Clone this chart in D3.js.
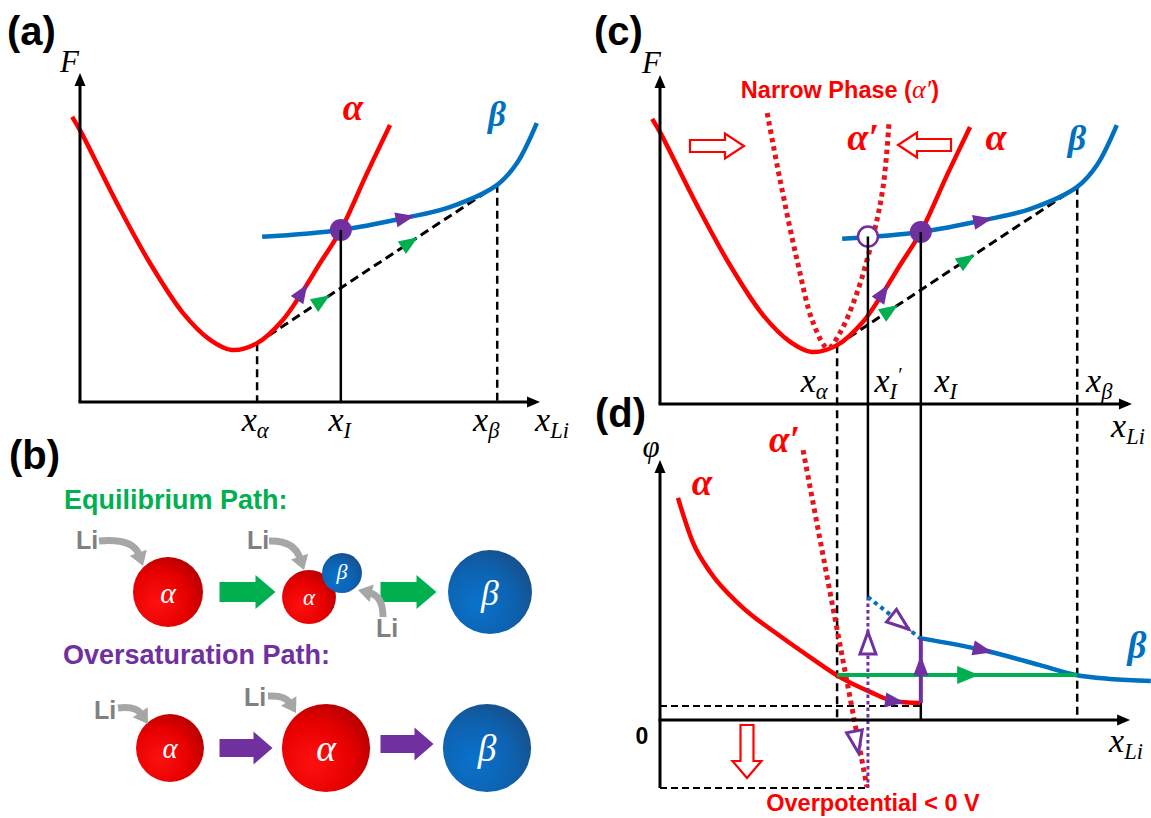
<!DOCTYPE html>
<html>
<head>
<meta charset="utf-8">
<script src="https://cdn.jsdelivr.net/npm/d3@7"></script>
<style>
  html, body { margin: 0; padding: 0; background: #ffffff; }
  svg { display: block; }
</style>
</head>
<body>
<svg id="fig" width="1151" height="818"></svg>
<script>
// ---------------- data ----------------
// Free energy F(x_Li) of the alpha phase, the beta phase and the narrow alpha' phase
const alphaF = [[-1.7,87.2],[0.2,82.6],[8,60.9],[15.2,42.5],[22.4,27.2],[28.3,19.0],[33.0,15.9],[38.5,18.0],[44.1,25.1],[48.3,33.6],[52.2,42.5],[56.7,52.6],[62.4,70.0],[67.4,84.7]];
const betaF = [[39.6,50.5],[56.7,52.6],[70.7,56.3],[80.4,59.6],[90.7,66.4],[95.0,73.1],[99.3,85.3]];
const alphaNarrowF = [[23.3,89.0],[26.1,68.5],[29.8,44.0],[33.3,24.8],[36.5,17.1],[39.1,21.7],[42.8,33.9],[46.3,51.1],[48.5,66.4],[49.8,86.2]];
const commonTangent = [[38.5,18.0],[90.7,66.4]];

// characteristic compositions
const xAlpha = 38.5, xI = 56.7, xIp = 45.2, xBeta = 90.7;

// Potential phi(x_Li)
const alphaPhi = [[3.9,85.4],[7.2,68.1],[10.9,56.9],[17.4,44.2],[26.1,32.3],[32.6,24.2],[39.1,16.5],[45.7,10.8],[50.7,7.3],[56.5,6.5]];
const alphaNarrowPhi = [[31.1,103.8],[45.0,-25.8]];
const betaPhi = [[56.5,31.5],[70.2,26.9],[82.4,21.2],[90.4,17.3],[97.8,15.8],[106.7,15.0]];
const betaPhiMetastable = [[45.2,47.3],[56.5,31.5]];
const plateauPhi = 17.3;      // two-phase equilibrium potential
const saturationPhi = 5.4;    // potential at the end of the alpha branch
const overPhi = -26.2;        // potential reached along alpha'

// direction markers (x positions along each path)
const markA = { alpha: [48.3], beta: [70.7], tangent: [52.6, 71.7] };
const markC = { alpha: [48.5], beta: [70.2], tangent: [50.0, 66.7] };
const markD = { alpha: [51.1], beta: [70.2], plateau: [67.0], jumpUp: 21.0, hollowUp: 29.6, hollowMeta: 52.2, hollowNarrow: -8.5 };

// schematic particle sequences (relative radii)
const eqPath = [['α'], ['α', 'β'], ['β']];
const eqSize = [[1.0], [0.77, 0.57], [1.2]];
const overPath = [['α'], ['α'], ['β']];
const overSize = [[0.97], [1.26], [1.26]];

// ---------------- styles ----------------
const RED = '#FF0000', BLUE = '#0070C0', PURPLE = '#7030A0', GREEN = '#00B050', GRAY = '#A6A6A6';
const serif = "'Liberation Serif','Times New Roman',serif";
const sans = "'Liberation Sans',Arial,sans-serif";

const svg = d3.select('#fig');
const defs = svg.append('defs');

// ---------------- scales ----------------
const xA = d3.scaleLinear().domain([0, 100]).range([80, 540]);
const yA = d3.scaleLinear().domain([0, 100]).range([402, 75]);
const xC = d3.scaleLinear().domain([0, 100]).range([660, 1120]);
const yC = d3.scaleLinear().domain([0, 100]).range([404, 77]);
const yD = d3.scaleLinear().domain([0, 100]).range([720, 460]);

// ---------------- helpers ----------------
function interp(pts, x) {
  for (let i = 0; i < pts.length - 1; i++) {
    const [x0, y0] = pts[i], [x1, y1] = pts[i + 1];
    if (x >= x0 && x <= x1) return y0 + (y1 - y0) * (x - x0) / (x1 - x0);
  }
  return pts[pts.length - 1][1];
}

function curvePath(g, pts, xs, ys, color, width, dash, curve) {
  const line = d3.line().x(d => xs(d[0])).y(d => ys(d[1])).curve(curve || d3.curveCatmullRom.alpha(0.5));
  const p = g.append('path').attr('d', line(pts)).attr('fill', 'none')
    .attr('stroke', color).attr('stroke-width', width);
  if (dash) p.attr('stroke-dasharray', dash);
  return p;
}

function straight(g, x1, y1, x2, y2, color, width, dash) {
  const l = g.append('line').attr('x1', x1).attr('y1', y1).attr('x2', x2).attr('y2', y2)
    .attr('stroke', color).attr('stroke-width', width);
  if (dash) l.attr('stroke-dasharray', dash);
  return l;
}

// point on a rendered path where the chosen coordinate reaches a target value
function pointOn(node, target, key = 'x') {
  const L = node.getTotalLength();
  const increasing = node.getPointAtLength(L)[key] > node.getPointAtLength(0)[key];
  let lo = 0, hi = L;
  for (let i = 0; i < 40; i++) {
    const m = (lo + hi) / 2;
    const v = node.getPointAtLength(m)[key];
    if ((v < target) === increasing) lo = m; else hi = m;
  }
  const p = node.getPointAtLength(lo);
  const a = node.getPointAtLength(Math.max(0, lo - 3)), b = node.getPointAtLength(Math.min(L, lo + 3));
  return { x: p.x, y: p.y, angle: Math.atan2(b.y - a.y, b.x - a.x) * 180 / Math.PI };
}

function triangle(g, x, y, angle, len, wid, color, hollow) {
  const t = g.append('path')
    .attr('d', `M${len / 2},0 L${-len / 2},${-wid / 2} L${-len / 2},${wid / 2} Z`)
    .attr('transform', `translate(${x},${y}) rotate(${angle})`);
  if (hollow) t.attr('fill', '#fff').attr('stroke', color).attr('stroke-width', 3).attr('stroke-linejoin', 'miter');
  else t.attr('fill', color);
  return t;
}

function axisArrow(g, x, y, angle) {
  g.append('path').attr('d', 'M0,0 L-13,-5.5 L-13,5.5 Z').attr('fill', '#000')
    .attr('transform', `translate(${x},${y}) rotate(${angle})`);
}

function blockArrow(g, x, y, angle, len, shaft, head, headLen, fill, stroke) {
  const d = `M0,${-shaft / 2} L${len - headLen},${-shaft / 2} L${len - headLen},${-head / 2} L${len},0 ` +
    `L${len - headLen},${head / 2} L${len - headLen},${shaft / 2} L0,${shaft / 2} Z`;
  const p = g.append('path').attr('d', d).attr('transform', `translate(${x},${y}) rotate(${angle})`);
  if (stroke) p.attr('fill', '#fff').attr('stroke', stroke).attr('stroke-width', 2.2);
  else p.attr('fill', fill);
}

function xLabel(g, x, y, sub, opts = {}) {
  const size = opts.size || 34;
  const t = g.append('text').attr('x', x).attr('y', y).attr('text-anchor', 'middle')
    .attr('font-family', serif).attr('font-style', 'italic').attr('font-size', size).attr('fill', '#000');
  t.append('tspan').text('x');
  t.append('tspan').attr('font-size', size * 0.66).attr('dy', size * 0.22).text(sub);
  if (opts.prime) t.append('tspan').attr('font-size', size * 0.6).attr('dy', -size * 0.5).text('′');
  return t;
}

function greek(g, x, y, s, color, size, anchor = 'middle') {
  return g.append('text').attr('x', x).attr('y', y).attr('text-anchor', anchor)
    .attr('font-family', serif).attr('font-style', 'italic').attr('font-weight', 'bold')
    .attr('font-size', size).attr('fill', color).text(s);
}

function panelLabel(x, y, s) {
  svg.append('text').attr('x', x).attr('y', y).attr('font-family', sans).attr('font-weight', 'bold')
    .attr('font-size', 40).attr('fill', '#000').text(s);
}

// ================= panel (a) =================
const gA = svg.append('g');
panelLabel(7, 45, '(a)');
gA.append('text').attr('x', 60).attr('y', 72).attr('font-family', serif).attr('font-style', 'italic')
  .attr('font-size', 31).text('F');

const FIa = interp(betaF, xI);
straight(gA, xA(xAlpha), yA(commonTangent[0][1]), xA(xAlpha), yA(0), '#000', 2.5, '8 5');
straight(gA, xA(xBeta), yA(commonTangent[1][1]), xA(xBeta), yA(0), '#000', 2.5, '8 5');
const tanA = gA.append('path')
  .attr('d', d3.line().x(d => xA(d[0])).y(d => yA(d[1]))(commonTangent))
  .attr('stroke', '#000').attr('stroke-width', 3).attr('stroke-dasharray', '9 5').attr('fill', 'none');
const redA = curvePath(gA, alphaF, xA, yA, RED, 4.5);
const blueA = curvePath(gA, betaF, xA, yA, BLUE, 4.5);
gA.append('circle').attr('cx', xA(xI)).attr('cy', yA(FIa)).attr('r', 11).attr('fill', PURPLE);
straight(gA, xA(xI), yA(FIa), xA(xI), yA(0), '#000', 2.5);

markA.alpha.forEach(v => { const p = pointOn(redA.node(), xA(v)); triangle(gA, p.x, p.y, p.angle, 19, 15, PURPLE); });
markA.beta.forEach(v => { const p = pointOn(blueA.node(), xA(v)); triangle(gA, p.x, p.y, p.angle, 19, 15, PURPLE); });
markA.tangent.forEach(v => { const p = pointOn(tanA.node(), xA(v)); triangle(gA, p.x, p.y, p.angle, 19, 15, GREEN); });

// axes
straight(gA, xA(0), yA(0), xA(0), yA(100) + 4, '#000', 3);
axisArrow(gA, xA(0), yA(100.6), -90);
straight(gA, xA(0) - 1.5, yA(0), xA(100) - 4, yA(0), '#000', 3);
axisArrow(gA, xA(100), yA(0), 0);

greek(gA, 353, 120, 'α', RED, 37);
greek(gA, 497, 126, 'β', BLUE, 35);
xLabel(gA, xA(xAlpha) - 2, 431, 'α');
xLabel(gA, xA(xI) - 1, 431, 'I');
xLabel(gA, xA(xBeta) - 11, 431, 'β');
xLabel(gA, xA(100) + 12, 431, 'Li');

// ================= panel (c) =================
const gC = svg.append('g');
panelLabel(594, 45, '(c)');
gC.append('text').attr('x', 642).attr('y', 73).attr('font-family', serif).attr('font-style', 'italic')
  .attr('font-size', 31).text('F');

const FIc = interp(betaF, xI);
const FIpc = interp(betaF, xIp);

// guide lines running down into panel (d)
straight(gC, xC(xAlpha), yC(commonTangent[0][1]), xC(xAlpha), yD(0), '#000', 2.5, '8 5');
straight(gC, xC(xBeta), yC(commonTangent[1][1]), xC(xBeta), yD(0), '#000', 2.5, '8 5');

const tanC = gC.append('path')
  .attr('d', d3.line().x(d => xC(d[0])).y(d => yC(d[1]))(commonTangent))
  .attr('stroke', '#000').attr('stroke-width', 3).attr('stroke-dasharray', '9 5').attr('fill', 'none');
const redC = curvePath(gC, alphaF, xC, yC, RED, 4.5);
curvePath(gC, alphaNarrowF, xC, yC, '#E8141B', 5, '4.5 4');
const blueC = curvePath(gC, betaF, xC, yC, BLUE, 4.5);

gC.append('circle').attr('cx', xC(xI)).attr('cy', yC(FIc)).attr('r', 11).attr('fill', PURPLE);
gC.append('circle').attr('cx', xC(xIp)).attr('cy', yC(FIpc)).attr('r', 10).attr('fill', '#fff')
  .attr('stroke', PURPLE).attr('stroke-width', 2.5);
straight(gC, xC(xI), yC(FIc), xC(xI), yD(0), '#000', 2.5);
straight(gC, xC(xIp), yC(FIpc), xC(xIp), yD(betaPhiMetastable[0][1]), '#000', 2.5);

markC.alpha.forEach(v => { const p = pointOn(redC.node(), xC(v)); triangle(gC, p.x, p.y, p.angle, 19, 15, PURPLE); });
markC.beta.forEach(v => { const p = pointOn(blueC.node(), xC(v)); triangle(gC, p.x, p.y, p.angle, 19, 15, PURPLE); });
markC.tangent.forEach(v => { const p = pointOn(tanC.node(), xC(v)); triangle(gC, p.x, p.y, p.angle, 19, 15, GREEN); });

straight(gC, xC(0), yC(0), xC(0), yC(100) + 4, '#000', 3);
axisArrow(gC, xC(0), yC(100.6), -90);
straight(gC, xC(0) - 1.5, yC(0), xC(102.6) - 4, yC(0), '#000', 3);
axisArrow(gC, xC(102.6), yC(0), 0);

// narrowing arrows
blockArrow(gC, 690, 146, 0, 54, 12, 25, 19, null, RED);
blockArrow(gC, 951, 145, 180, 53, 12, 25, 19, null, RED);

const np = gC.append('text').attr('x', 840).attr('y', 98).attr('text-anchor', 'middle')
  .attr('font-family', sans).attr('font-weight', 'bold').attr('font-size', 23.5).attr('fill', RED);
np.append('tspan').text('Narrow Phase (');
np.append('tspan').attr('font-family', serif).attr('font-style', 'italic').attr('font-weight', 'normal').attr('font-size', 26).text('α′');
np.append('tspan').text(')');

greek(gC, 863, 150, 'α′', RED, 38);
greek(gC, 996, 150, 'α', RED, 38);
greek(gC, 1077, 150, 'β', BLUE, 36);

xLabel(gC, xC(xAlpha) - 23, 392, 'α');
xLabel(gC, xC(xIp) + 20, 392, 'I', { prime: true });
xLabel(gC, xC(xI) + 25, 392, 'I');
xLabel(gC, xC(xBeta) + 22, 392, 'β');
xLabel(gC, 1128, 437, 'Li');

// ================= panel (d) =================
const gD = svg.append('g');
panelLabel(595, 427, '(d)');
gD.append('text').attr('x', 651).attr('y', 457).attr('text-anchor', 'middle').attr('font-family', serif)
  .attr('font-style', 'italic').attr('font-size', 31).text('φ');

straight(gD, xC(0), yD(saturationPhi), xC(xI), yD(saturationPhi), '#000', 2, '7 4');
straight(gD, xC(0), yD(overPhi), xC(xIp), yD(overPhi), '#000', 2, '7 4');

const redD = curvePath(gD, alphaPhi, xC, yD, RED, 4.5, null, d3.curveMonotoneX);
const narrowD = gD.append('path')
  .attr('d', d3.line().x(d => xC(d[0])).y(d => yD(d[1]))(alphaNarrowPhi))
  .attr('stroke', '#E8141B').attr('stroke-width', 5).attr('stroke-dasharray', '4.5 4').attr('fill', 'none');
straight(gD, xC(xIp), yD(betaPhiMetastable[0][1]), xC(xIp), yD(overPhi), PURPLE, 3, '3.5 3');
gD.append('path').attr('d', d3.line().x(d => xC(d[0])).y(d => yD(d[1]))(betaPhiMetastable))
  .attr('stroke', BLUE).attr('stroke-width', 4).attr('stroke-dasharray', '4 4').attr('fill', 'none');
const blueD = curvePath(gD, betaPhi, xC, yD, BLUE, 4.5, null, d3.curveMonotoneX);
gD.append('line').attr('x1', xC(xAlpha)).attr('y1', yD(plateauPhi))
  .attr('x2', xC(xBeta)).attr('y2', yD(plateauPhi)).attr('stroke', GREEN).attr('stroke-width', 4);
straight(gD, xC(xI), yD(alphaPhi[alphaPhi.length - 1][1]), xC(xI), yD(betaPhi[0][1]), PURPLE, 4);

// filled direction markers
markD.alpha.forEach(v => { const p = pointOn(redD.node(), xC(v)); triangle(gD, p.x, p.y, p.angle, 20, 15, PURPLE); });
markD.beta.forEach(v => { const p = pointOn(blueD.node(), xC(v)); triangle(gD, p.x, p.y, p.angle, 20, 15, PURPLE); });
markD.plateau.forEach(v => triangle(gD, xC(v), yD(plateauPhi), 0, 22, 18, GREEN));
triangle(gD, xC(xI), yD(markD.jumpUp), -90, 20, 15, PURPLE);

// hollow markers of the oversaturation path
triangle(gD, xC(xIp), yD(markD.hollowUp), -90, 22, 16, PURPLE, true);
{
  const a = betaPhiMetastable[0], b = betaPhiMetastable[1];
  const ang = Math.atan2(yD(b[1]) - yD(a[1]), xC(b[0]) - xC(a[0])) * 180 / Math.PI;
  triangle(gD, xC(markD.hollowMeta), yD(interp(betaPhiMetastable, markD.hollowMeta)), ang, 22, 16, PURPLE, true);
  const p = pointOn(narrowD.node(), yD(markD.hollowNarrow), 'y');
  triangle(gD, p.x - 2, p.y, p.angle, 22, 16, PURPLE, true);
}

straight(gD, xC(0), yD(overPhi), xC(0), yD(100) + 4, '#000', 3);
axisArrow(gD, xC(0), yD(100), -90);
straight(gD, xC(0) - 1.5, yD(0), xC(102.2) - 4, yD(0), '#000', 3);
axisArrow(gD, xC(102.2), yD(0), 0);

blockArrow(gD, 747, 725, 90, 53, 13, 29, 17, null, RED);

gD.append('text').attr('x', 642).attr('y', 744).attr('text-anchor', 'middle').attr('font-family', sans)
  .attr('font-weight', 'bold').attr('font-size', 23).text('0');
greek(gD, 702, 495, 'α', RED, 37);
greek(gD, 769, 452, 'α′', RED, 37, 'start');
greek(gD, 1137, 658, 'β', BLUE, 37);
xLabel(gD, 1126, 752, 'Li');
gD.append('text').attr('x', 873).attr('y', 811).attr('text-anchor', 'middle').attr('font-family', sans)
  .attr('font-weight', 'bold').attr('font-size', 23.5).attr('fill', RED).text('Overpotential < 0 V');

// ================= panel (b) =================
const gB = svg.append('g');
panelLabel(9, 469, '(b)');

const redGrad = defs.append('radialGradient').attr('id', 'gRed').attr('cx', '35%').attr('cy', '65%').attr('r', '80%');
redGrad.append('stop').attr('offset', '0%').attr('stop-color', '#FF1010');
redGrad.append('stop').attr('offset', '55%').attr('stop-color', '#E60000');
redGrad.append('stop').attr('offset', '100%').attr('stop-color', '#A80000');
const blueGrad = defs.append('radialGradient').attr('id', 'gBlue').attr('cx', '35%').attr('cy', '65%').attr('r', '80%');
blueGrad.append('stop').attr('offset', '0%').attr('stop-color', '#0A72CC');
blueGrad.append('stop').attr('offset', '55%').attr('stop-color', '#0D62B0');
blueGrad.append('stop').attr('offset', '100%').attr('stop-color', '#1A4A80');

const stepX = d3.scalePoint().domain(d3.range(5)).range([168, 490]);
const rScale = d3.scaleLinear().domain([0, 1]).range([0, 35]);
const rowEq = 592, rowOver = 748;

gB.append('text').attr('x', 64).attr('y', 509).attr('font-family', sans).attr('font-weight', 'bold')
  .attr('font-size', 27).attr('fill', GREEN).text('Equilibrium Path:');
gB.append('text').attr('x', 63).attr('y', 664).attr('font-family', sans).attr('font-weight', 'bold')
  .attr('font-size', 27).attr('fill', PURPLE).text('Oversaturation Path:');

function particle(cx, cy, r, phase) {
  gB.append('circle').attr('cx', cx).attr('cy', cy).attr('r', r)
    .attr('fill', phase === 'α' ? 'url(#gRed)' : 'url(#gBlue)');
  gB.append('text').attr('x', cx).attr('y', cy + r * 0.3).attr('text-anchor', 'middle')
    .attr('font-family', serif).attr('font-style', 'italic').attr('font-size', Math.max(22, r * 0.85))
    .attr('fill', '#fff').text(phase);
}

function liArrow(p0, c, p1) {
  const ang = Math.atan2(p1[1] - c[1], p1[0] - c[0]);
  const hl = 12;
  const end = [p1[0] - hl * Math.cos(ang), p1[1] - hl * Math.sin(ang)];
  gB.append('path').attr('d', `M${p0[0]},${p0[1]} Q${c[0]},${c[1]} ${end[0]},${end[1]}`)
    .attr('fill', 'none').attr('stroke', GRAY).attr('stroke-width', 7);
  gB.append('path').attr('d', `M0,0 L${-hl - 2},-9 L${-hl - 2},9 Z`).attr('fill', GRAY)
    .attr('transform', `translate(${p1[0]},${p1[1]}) rotate(${ang * 180 / Math.PI})`);
}
function liText(x, y) {
  gB.append('text').attr('x', x).attr('y', y).attr('font-family', sans).attr('font-weight', 'bold')
    .attr('font-size', 25).attr('fill', '#808080').text('Li');
}

// equilibrium row
eqPath.forEach((phases, i) => {
  const cx = stepX(i * 2);
  if (phases.length === 1) particle(cx, rowEq, rScale(eqSize[i][0]), phases[0]);
  else {
    particle(cx - 20, rowEq + 5, rScale(eqSize[i][0]), phases[0]);
    particle(cx + 13, rowEq - 19, rScale(eqSize[i][1]), phases[1]);
  }
});
[1, 3].forEach(k => blockArrow(gB, stepX(k) - 29, rowEq, 0, 56, 20, 34, 20, GREEN));

// oversaturation row
overPath.forEach((phases, i) => particle(stepX(i * 2) + (i === 0 ? 2 : -3), rowOver, rScale(overSize[i][0]), phases[0]));
[1, 3].forEach(k => blockArrow(gB, stepX(k) - 29, rowOver - (k === 3 ? 4 : 0), 0, 53, 18, 33, 19, PURPLE));

// lithium insertion arrows
liText(76, 549); liArrow([99, 541], [133, 538], [143, 566]);
liText(247, 549); liArrow([269, 541], [294, 540], [304, 570]);
liText(376, 637); liArrow([383, 617], [383, 596], [358, 590]);
liText(94, 719); liArrow([118, 708], [136, 706], [148, 724]);
liText(244, 706); liArrow([268, 696], [285, 695], [296, 713]);
</script>
</body>
</html>
